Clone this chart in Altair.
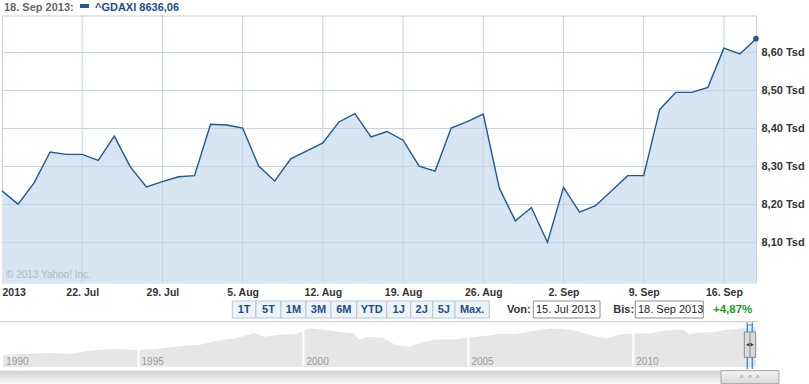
import altair as alt
import pandas as pd

# ---------------- data ----------------
dax_close = [8236, 8201, 8257, 8338, 8332, 8332, 8316, 8380, 8299, 8246,
             8260, 8273, 8276, 8411, 8409, 8401, 8301, 8262, 8320, 8341,
             8362, 8417, 8439, 8378, 8392, 8369, 8301, 8288, 8401, 8418,
             8438, 8243, 8157, 8192, 8101, 8245, 8180, 8197, 8236, 8276,
             8276, 8450, 8495, 8495, 8508, 8611, 8596, 8636.06]
week_labels = ["2013", "22. Jul", "29. Jul", "5. Aug", "12. Aug", "19. Aug",
               "26. Aug", "2. Sep", "9. Sep", "16. Sep"]
week_start_idx = [0, 5, 10, 15, 20, 25, 30, 35, 40, 45]
y_ticks = [8100, 8200, 8300, 8400, 8500, 8600]

hist_year = [1990.9, 1991.5, 1992.3, 1992.9, 1993.5, 1994.2, 1994.9, 1995.5, 1996.3, 1996.9,
             1997.5, 1997.9, 1998.5, 1998.8, 1999.3, 1999.8, 2000.2, 2000.6, 2001.0, 2001.5,
             2001.7, 2001.9, 2002.4, 2002.8, 2003.2, 2003.6, 2004.0, 2004.6, 2005.0, 2005.6,
             2006.0, 2006.4, 2006.9, 2007.5, 2007.9, 2008.3, 2008.8, 2009.2, 2009.6, 2010.0,
             2010.5, 2011.0, 2011.5, 2011.7, 2012.0, 2012.4, 2012.9, 2013.4, 2013.72]
hist_value = [1400, 1490, 1620, 1490, 1850, 2070, 1940, 2070, 2510, 2770,
              3700, 4000, 5830, 4600, 5250, 5580, 7950, 7380, 6410, 5740,
              3700, 4530, 4300, 2680, 2410, 3220, 3840, 3840, 4380, 4960,
              5560, 5400, 6500, 7830, 7600, 6500, 4800, 4150, 5300, 5650,
              5650, 6900, 7300, 5400, 6000, 6150, 7300, 8100, 8636]
nav_sep_years = [1995, 2000, 2005, 2010]
nav_label_years = [1990.9, 1995, 2000, 2005, 2010]
nav_labels = ["1990", "1995", "2000", "2005", "2010"]

range_buttons = ["1T", "5T", "1M", "3M", "6M", "YTD", "1J", "2J", "5J", "Max."]
header_date = "18. Sep 2013:"
header_series = "^GDAXI 8636,06"
from_date = "15. Jul 2013"
to_date = "18. Sep 2013"
change_text = "+4,87%"

# ---------------- layout ----------------
W, H = 754, 267
PAD_L, PAD_T = 2, 15.5
def px(v): return v - PAD_L
def py(v): return v - PAD_T

button_edges = [232.3, 256, 281, 306, 331, 356.7, 386.7, 410.7, 432.7, 455, 489.3]

FONT = "Liberation Sans"
LINE = "#1f5896"
GRID = "#c3d3e1"

ONE = pd.DataFrame({"a": [0]})

def label(txt, x, y, **kw):
    return alt.Chart(ONE).mark_text(align="left", baseline="alphabetic", font=FONT, **kw).encode(
        x=alt.value(px(x)), y=alt.value(py(y)), text=alt.value(txt))

def box(x0, x1, y0, y1, **kw):
    return alt.Chart(ONE).mark_rect(**kw).encode(
        x=alt.value(px(x0)), x2=alt.value(px(x1)), y=alt.value(py(y0)), y2=alt.value(py(y1)))

# ---------------- main chart ----------------
main = pd.DataFrame({"i": list(range(len(dax_close))), "v": dax_close})
xs = alt.Scale(domain=[0, len(dax_close) - 1], nice=False, zero=False)
Y_MIN = 7995
ys = alt.Scale(domain=[Y_MIN, 8697], nice=False, zero=False)

lab_arr = "[" + ",".join("'%s'" % s for s in week_labels) + "]"

area = alt.Chart(main).mark_area(color="#d6e5f1").encode(
    x=alt.X("i:Q", scale=xs, axis=alt.Axis(
        values=week_start_idx, labelExpr=lab_arr + "[round(datum.value/5)]",
        grid=False, ticks=False, domain=False, labelFlush=True, title=None,
        labelFont=FONT, labelFontSize=10.5, labelFontWeight="bold", labelColor="#333333",
        labelBaseline="alphabetic", labelPadding=12.5)),
    y=alt.Y("v:Q", scale=ys, axis=alt.Axis(
        orient="right", values=y_ticks,
        labelExpr="replace(format(datum.value/1000, '.2f'), '.', ',') + ' Tsd'",
        grid=False, ticks=False, domain=False, title=None,
        labelFont=FONT, labelFontSize=11, labelFontWeight="bold", labelColor="#333333",
        labelBaseline="middle", labelPadding=5)),
    y2=alt.datum(Y_MIN),
)

hgrid = alt.Chart(pd.DataFrame({"t": y_ticks})).mark_rule(color=GRID, strokeWidth=1).encode(
    y=alt.Y("t:Q", scale=ys, axis=None))
vgrid = alt.Chart(pd.DataFrame({"t": week_start_idx[1:]})).mark_rule(color=GRID, strokeWidth=1).encode(
    x=alt.X("t:Q", scale=xs, axis=None))

line = alt.Chart(main).mark_line(color=LINE, strokeWidth=1.4).encode(
    x=alt.X("i:Q", scale=xs, axis=None), y=alt.Y("v:Q", scale=ys, axis=None))
last = alt.Chart(main.tail(1)).mark_circle(color=LINE, size=32, opacity=1).encode(
    x=alt.X("i:Q", scale=xs, axis=None), y=alt.Y("v:Q", scale=ys, axis=None))

copyright_txt = label("© 2013 Yahoo! Inc.", 6, 278, fontSize=10, color="#a9bac9")

# ---------------- header ----------------
hdr1 = label(header_date, 4, 11, fontSize=11, fontWeight="bold", color="#666666")
hdr_sym = box(80, 89, 4, 8, color=LINE)
hdr2 = label(header_series, 95, 11, fontSize=11, fontWeight="bold", color="#1c4f8a")

# ---------------- button row ----------------
btn = pd.DataFrame({
    "b": range_buttons,
    "x0": [px(v) for v in button_edges[:-1]],
    "x1": [px(v) for v in button_edges[1:]],
})
btn["xm"] = (btn["x0"] + btn["x1"]) / 2
btn_rect = alt.Chart(btn).mark_rect(fill="#eef3f8", stroke="#b5c6d6", strokeWidth=1).encode(
    x=alt.X("x0:Q", scale=None, axis=None), x2="x1:Q",
    y=alt.value(py(301)), y2=alt.value(py(318)))
btn_text = alt.Chart(btn).mark_text(font=FONT, fontSize=11, fontWeight="bold", color="#1c4f8a",
                                    baseline="alphabetic").encode(
    x=alt.X("xm:Q", scale=None, axis=None), y=alt.value(py(313)), text="b:N")

von = label("Von:", 507, 312.5, fontSize=11, fontWeight="bold", color="#333333")
von_box = box(533.3, 600, 301, 318, fill="white", stroke="#8c8c8c", strokeWidth=1)
von_txt = label(from_date, 536, 313, fontSize=11, color="#222222")
bis = label("Bis:", 613.3, 312.5, fontSize=11, fontWeight="bold", color="#333333")
bis_box = box(635.3, 703.3, 301, 318, fill="white", stroke="#8c8c8c", strokeWidth=1)
bis_txt = label(to_date, 638, 313, fontSize=11, color="#222222")
chg = label(change_text, 713, 312.5, fontSize=11.5, fontWeight="bold", color="#1f9a22")

# ---------------- navigator ----------------
nav = pd.DataFrame({"yr": hist_year, "v": hist_value})
nxs = alt.Scale(domain=[1990.8, 2013.72], range=[px(0), px(756)], nice=False, zero=False)
NAV_BASE = 640
nys = alt.Scale(type="log", domain=[1400, 8600], range=[py(355), py(327.05)])

nav_top = alt.Chart(ONE).mark_rule(color="#c4c4c4", strokeWidth=1).encode(
    x=alt.value(px(0)), x2=alt.value(px(757)), y=alt.value(py(321.7)))
nav_area = alt.Chart(nav).mark_area(color="#e6e6e6", opacity=1).encode(
    x=alt.X("yr:Q", scale=nxs, axis=None),
    y=alt.Y("v:Q", scale=nys, axis=None),
    y2=alt.datum(NAV_BASE))
nav_sep = alt.Chart(pd.DataFrame({"yr": nav_sep_years})).mark_rule(color="white", strokeWidth=2).encode(
    x=alt.X("yr:Q", scale=nxs, axis=None), y=alt.value(py(322.5)), y2=alt.value(py(367.5)))
nav_lab = alt.Chart(pd.DataFrame({"yr": nav_label_years, "t": nav_labels})).mark_text(
    font=FONT, fontSize=10, color="#9a9a9a", align="left", baseline="alphabetic", dx=3).encode(
    x=alt.X("yr:Q", scale=nxs, axis=None), y=alt.value(py(364.5)), text="t:N")

# handle
h_line1 = alt.Chart(ONE).mark_rule(color="#3a8fe3", strokeWidth=1.5).encode(
    x=alt.value(px(747.3)), y=alt.value(py(322.5)), y2=alt.value(py(369)))
h_line2 = alt.Chart(ONE).mark_rule(color="#3a8fe3", strokeWidth=1.5).encode(
    x=alt.value(px(752.3)), y=alt.value(py(322.5)), y2=alt.value(py(369)))
h_top = alt.Chart(ONE).mark_rule(color="#3a8fe3", strokeWidth=1).encode(
    x=alt.value(px(747.3)), x2=alt.value(px(752.3)), y=alt.value(py(325)))
h_box = box(744.3, 755.7, 332, 357.3, fill="#dadada", stroke="#8a8a8a", strokeWidth=1)
h_mid = alt.Chart(ONE).mark_rule(color="#8a8a8a", strokeWidth=1).encode(
    x=alt.value(px(750)), y=alt.value(py(332)), y2=alt.value(py(357.3)))
h_tri_l = alt.Chart(ONE).mark_point(shape="triangle-left", filled=True, size=14, color="#333333", opacity=1).encode(
    x=alt.value(px(747.8)), y=alt.value(py(344.7)))
h_tri_r = alt.Chart(ONE).mark_point(shape="triangle-right", filled=True, size=14, color="#333333", opacity=1).encode(
    x=alt.value(px(752.2)), y=alt.value(py(344.7)))

# scrollbar
track_grad = alt.Gradient(gradient="linear",
                          stops=[alt.GradientStop(color="#d0d0d0", offset=0),
                                 alt.GradientStop(color="#f6f6f6", offset=1)],
                          x1=0, x2=0, y1=0, y2=1)
thumb_grad = alt.Gradient(gradient="linear",
                          stops=[alt.GradientStop(color="#f4f4f4", offset=0),
                                 alt.GradientStop(color="#d8d8d8", offset=1)],
                          x1=0, x2=0, y1=0, y2=1)
track = box(0, 721, 370.7, 383.7, fill=track_grad)
thumb = box(721, 779, 370.7, 383.7, fill=thumb_grad, stroke="#a6a6a6", strokeWidth=1)
grip = alt.Chart(pd.DataFrame({"g": [741.7, 750, 757.7]})).mark_circle(size=12, color="#c2c2c2", opacity=1).encode(
    x=alt.X("g:Q", scale=alt.Scale(domain=[0, 809], range=[px(0), px(809)]), axis=None),
    y=alt.value(py(376.5)))

chart = alt.layer(
    area, hgrid, vgrid, line, last, copyright_txt,
    hdr1, hdr_sym, hdr2,
    btn_rect, btn_text, von, von_box, von_txt, bis, bis_box, bis_txt, chg,
    nav_top, nav_area, nav_sep, nav_lab,
    track, thumb, grip,
    h_line1, h_line2, h_top, h_box, h_mid, h_tri_l, h_tri_r,
).resolve_scale(x="independent", y="independent").properties(
    width=W, height=H,
    padding={"left": PAD_L, "top": PAD_T, "right": 809 - PAD_L - W, "bottom": 384 - PAD_T - H},
    autosize=alt.AutoSizeParams(type="none"),
).configure(font=FONT).configure_view(stroke=GRID, strokeWidth=1)

chart.save("out.html", embed_options={"renderer": "svg", "actions": False})
